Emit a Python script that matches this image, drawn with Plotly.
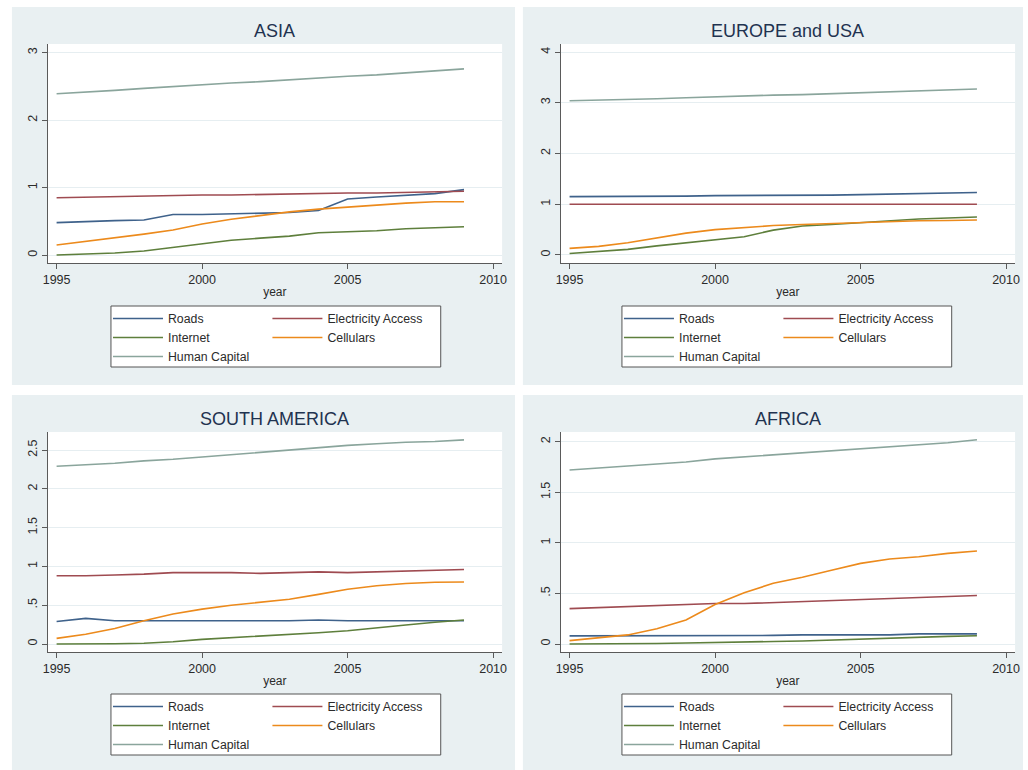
import plotly.graph_objects as go

# ---------------- data ----------------
years = list(range(1995, 2010))
series_names = ["Roads", "Electricity Access", "Internet", "Cellulars", "Human Capital"]
region_titles = ["ASIA", "EUROPE and USA", "SOUTH AMERICA", "AFRICA"]

asia_roads = [0.48, 0.50, 0.51, 0.52, 0.60, 0.60, 0.61, 0.62, 0.63, 0.66, 0.83, 0.86, 0.88, 0.91, 0.97]
asia_electricity = [0.85, 0.86, 0.87, 0.88, 0.88, 0.89, 0.89, 0.90, 0.91, 0.91, 0.92, 0.92, 0.93, 0.94, 0.945]
asia_internet = [0.00, 0.01, 0.03, 0.06, 0.11, 0.17, 0.22, 0.25, 0.28, 0.33, 0.34, 0.36, 0.39, 0.41, 0.42]
asia_cellulars = [0.15, 0.20, 0.25, 0.31, 0.37, 0.46, 0.53, 0.59, 0.64, 0.68, 0.71, 0.75, 0.77, 0.79, 0.79]
asia_human_capital = [2.39, 2.41, 2.44, 2.47, 2.50, 2.52, 2.55, 2.57, 2.60, 2.62, 2.65, 2.67, 2.70, 2.73, 2.76]

eu_roads = [1.15, 1.15, 1.16, 1.16, 1.16, 1.17, 1.17, 1.18, 1.18, 1.18, 1.19, 1.20, 1.21, 1.22, 1.23]
eu_electricity = [1.00, 1.00, 1.00, 1.00, 1.00, 1.00, 1.00, 1.00, 1.00, 1.00, 1.00, 1.00, 1.00, 1.00, 1.00]
eu_internet = [0.03, 0.065, 0.11, 0.18, 0.24, 0.295, 0.36, 0.49, 0.57, 0.60, 0.64, 0.67, 0.71, 0.73, 0.75]
eu_cellulars = [0.13, 0.17, 0.24, 0.34, 0.43, 0.50, 0.54, 0.58, 0.60, 0.62, 0.64, 0.66, 0.675, 0.68, 0.69]
eu_human_capital = [3.04, 3.05, 3.07, 3.08, 3.10, 3.12, 3.13, 3.15, 3.16, 3.18, 3.19, 3.21, 3.23, 3.25, 3.27]

sa_roads = [0.29, 0.33, 0.30, 0.30, 0.30, 0.30, 0.30, 0.30, 0.30, 0.31, 0.30, 0.30, 0.30, 0.30, 0.30]
sa_electricity = [0.88, 0.88, 0.89, 0.90, 0.92, 0.92, 0.92, 0.91, 0.92, 0.93, 0.92, 0.93, 0.94, 0.95, 0.96]
sa_internet = [0.00, 0.00, 0.003, 0.01, 0.03, 0.06, 0.08, 0.10, 0.125, 0.146, 0.17, 0.21, 0.245, 0.28, 0.31]
sa_cellulars = [0.073, 0.125, 0.20, 0.30, 0.387, 0.45, 0.50, 0.537, 0.576, 0.64, 0.705, 0.75, 0.78, 0.795, 0.80]
sa_human_capital = [2.29, 2.31, 2.33, 2.36, 2.38, 2.41, 2.44, 2.47, 2.50, 2.53, 2.56, 2.58, 2.60, 2.61, 2.63]

af_roads = [0.08, 0.08, 0.08, 0.08, 0.08, 0.085, 0.085, 0.085, 0.09, 0.09, 0.09, 0.09, 0.10, 0.10, 0.10]
af_electricity = [0.35, 0.36, 0.37, 0.38, 0.39, 0.40, 0.40, 0.41, 0.42, 0.43, 0.44, 0.45, 0.46, 0.47, 0.48]
af_internet = [0.00, 0.00, 0.003, 0.005, 0.01, 0.013, 0.02, 0.025, 0.03, 0.04, 0.05, 0.06, 0.065, 0.075, 0.082]
af_cellulars = [0.033, 0.06, 0.09, 0.15, 0.237, 0.39, 0.507, 0.60, 0.66, 0.73, 0.797, 0.84, 0.863, 0.896, 0.92]
af_human_capital = [1.72, 1.74, 1.76, 1.78, 1.80, 1.83, 1.85, 1.87, 1.89, 1.91, 1.93, 1.95, 1.97, 1.99, 2.02]

x_tick_values = [1995, 2000, 2005, 2010]
asia_y_ticks = [0, 1, 2, 3]
eu_y_ticks = [0, 1, 2, 3, 4]
sa_y_ticks = [0, 0.5, 1, 1.5, 2, 2.5]
af_y_ticks = [0, 0.5, 1, 1.5, 2]
asia_y_labels = ["0", "1", "2", "3"]
eu_y_labels = ["0", "1", "2", "3", "4"]
sa_y_labels = ["0", ".5", "1", "1.5", "2", "2.5"]
af_y_labels = ["0", ".5", "1", "1.5", "2"]

regions = [
    [asia_roads, asia_electricity, asia_internet, asia_cellulars, asia_human_capital],
    [eu_roads, eu_electricity, eu_internet, eu_cellulars, eu_human_capital],
    [sa_roads, sa_electricity, sa_internet, sa_cellulars, sa_human_capital],
    [af_roads, af_electricity, af_internet, af_cellulars, af_human_capital],
]
y_ticks = [asia_y_ticks, eu_y_ticks, sa_y_ticks, af_y_ticks]
y_labels = [asia_y_labels, eu_y_labels, sa_y_labels, af_y_labels]

# ---------------- styling ----------------
W, H = 1028, 770
FONT = "Arial, Liberation Sans, sans-serif"
line_colors = ["#3f628b", "#9f4b51", "#5e7f3c", "#ec8a1c", "#8aa59c"]
panel_bg = "#e9f0f2"
grid_col = "#e6eef1"
axis_col = "#5a5a5a"
text_col = "#2b2b2b"
title_col = "#1f3350"

# pixel geometry of each panel: (panel box), (plot box), y range
panels = [
    dict(box=(7, 7, 515, 385), plot=(43, 44, 502, 263), yr=(-0.118, 3.128)),
    dict(box=(523, 7, 1028, 385), plot=(561, 44, 1020, 263), yr=(-0.158, 4.158)),
    dict(box=(7, 395, 515, 770), plot=(43, 432, 502, 652), yr=(-0.103, 2.732)),
    dict(box=(523, 395, 1028, 770), plot=(561, 432, 1020, 652), yr=(-0.079, 2.096)),
]
x_range = (1994.69, 2010.31)


def px_x(v):
    return v / W


def px_y(v):
    return 1 - v / H


fig = go.Figure()
shapes = []
annotations = []
layout_axes = {}
legends = {}

left_col = {0, 2, 4}

for i, (p, series) in enumerate(zip(panels, regions)):
    n = i + 1
    xa = "x" if n == 1 else f"x{n}"
    ya = "y" if n == 1 else f"y{n}"
    xkey = "xaxis" if n == 1 else f"xaxis{n}"
    ykey = "yaxis" if n == 1 else f"yaxis{n}"
    lg_left = "legend" if n == 1 else f"legend{2 * n - 1}"
    lg_right = f"legend{2 * n}"

    bx0, by0, bx1, by1 = p["box"]
    qx0, qy0, qx1, qy1 = p["plot"]

    # panel background, plot area and legend frame
    shapes.append(dict(type="rect", xref="paper", yref="paper", layer="below",
                       x0=px_x(bx0), x1=px_x(bx1), y0=px_y(by1), y1=px_y(by0),
                       fillcolor=panel_bg, line=dict(width=0)))
    shapes.append(dict(type="rect", xref="paper", yref="paper", layer="below",
                       x0=px_x(qx0), x1=px_x(qx1), y0=px_y(qy1), y1=px_y(qy0),
                       fillcolor="white", line=dict(width=0)))
    lx0 = bx0 + 100
    ly0 = by0 + 299
    shapes.append(dict(type="rect", xref="paper", yref="paper", layer="below",
                       x0=px_x(lx0), x1=px_x(lx0 + 333), y0=px_y(ly0 + 61), y1=px_y(ly0),
                       fillcolor="white", line=dict(color="#555555", width=1)))

    for k, (name, vals) in enumerate(zip(series_names, series)):
        fig.add_trace(go.Scatter(
            x=years, y=vals, mode="lines", name=name,
            line=dict(color=line_colors[k], width=1.6),
            xaxis=xa, yaxis=ya,
            legend=lg_left if k in left_col else lg_right,
        ))

    layout_axes[xkey] = dict(
        domain=[px_x(qx0), px_x(qx1)], anchor=ya, range=list(x_range),
        tickvals=x_tick_values, ticks="outside", ticklen=5, tickcolor=axis_col,
        showline=True, linecolor=axis_col, linewidth=1, showgrid=False, zeroline=False,
        tickfont=dict(family=FONT, size=12.5, color=text_col),
        title=dict(text="year", font=dict(family=FONT, size=12, color=text_col), standoff=1),
    )
    layout_axes[ykey] = dict(
        domain=[px_y(qy1), px_y(qy0)], anchor=xa, range=list(p["yr"]),
        tickvals=y_ticks[i], ticktext=y_labels[i], tickangle=-90,
        ticks="outside", ticklen=5, tickcolor=axis_col,
        showline=True, linecolor=axis_col, linewidth=1,
        showgrid=True, gridcolor=grid_col, gridwidth=1, zeroline=False,
        tickfont=dict(family=FONT, size=12.5, color=text_col),
    )

    # panel title
    annotations.append(dict(text=region_titles[i], xref="paper", yref="paper",
                            x=px_x((qx0 + qx1) / 2), y=px_y(by0 + 24), xanchor="center", yanchor="middle",
                            showarrow=False, font=dict(family=FONT, size=18, color=title_col)))

    legend_common = dict(orientation="v", bgcolor="rgba(0,0,0,0)", borderwidth=0,
                         xanchor="left", yanchor="top", itemwidth=50, traceorder="normal",
                         font=dict(family=FONT, size=12.3, color=text_col),
                         itemclick=False, itemdoubleclick=False)
    legends[lg_left] = dict(legend_common, x=px_x(lx0 - 3), y=px_y(ly0 - 2))
    legends[lg_right] = dict(legend_common, x=px_x(lx0 + 158), y=px_y(ly0 - 2))

fig.update_layout(
    width=W, height=H,
    margin=dict(l=0, r=0, t=0, b=0),
    paper_bgcolor="white", plot_bgcolor="white",
    font=dict(family=FONT, color=text_col),
    shapes=shapes, annotations=annotations,
    **layout_axes, **legends,
)

fig.write_html("out.html")
